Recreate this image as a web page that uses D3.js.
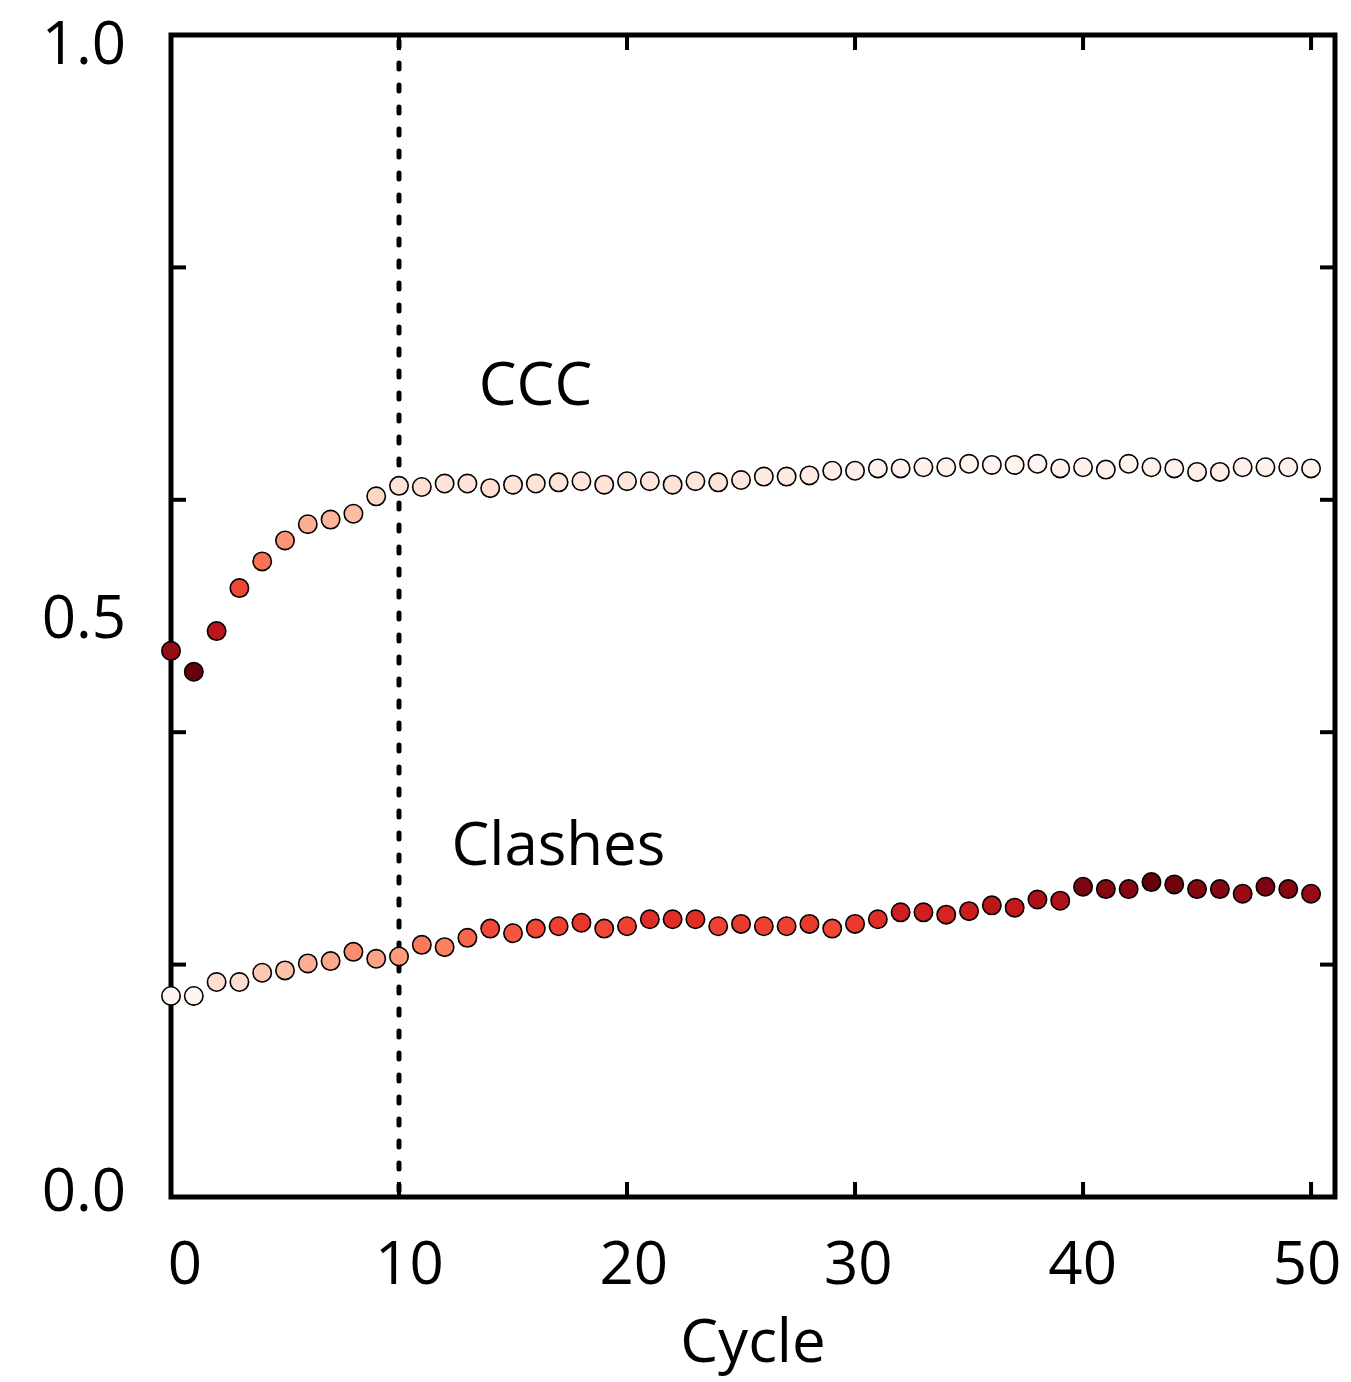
<!DOCTYPE html>
<html>
<head>
<meta charset="utf-8">
<script src="https://cdn.jsdelivr.net/npm/d3@7"></script>
<style>
  html, body { margin: 0; padding: 0; background: #fff; }
  svg { display: block; }
  text { font-family: "Open Sans", "Noto Sans", sans-serif; fill: #000; }
</style>
</head>
<body>
<svg id="chart" width="1351" height="1382"></svg>
<script>
// ---- data ----
const cycles = d3.range(0, 51);
const ccc = [
  0.470, 0.452, 0.487, 0.524, 0.547, 0.565, 0.579, 0.583, 0.588, 0.603,
  0.612, 0.611, 0.614, 0.614, 0.610, 0.613, 0.614, 0.615, 0.616, 0.613,
  0.616, 0.616, 0.613, 0.616, 0.615, 0.617, 0.620, 0.620, 0.621, 0.625,
  0.625, 0.627, 0.627, 0.628, 0.628, 0.631, 0.630, 0.630, 0.631, 0.627,
  0.628, 0.626, 0.631, 0.628, 0.627, 0.624, 0.624, 0.628, 0.628, 0.628,
  0.627
];
const clashes = [
  0.173, 0.173, 0.185, 0.185, 0.193, 0.195, 0.201, 0.203, 0.211, 0.205,
  0.207, 0.217, 0.215, 0.223, 0.231, 0.227, 0.231, 0.233, 0.236, 0.231,
  0.233, 0.239, 0.239, 0.239, 0.233, 0.235, 0.233, 0.233, 0.235, 0.231,
  0.235, 0.239, 0.245, 0.245, 0.243, 0.246, 0.251, 0.249, 0.256, 0.255,
  0.267, 0.265, 0.265, 0.271, 0.269, 0.265, 0.265, 0.261, 0.267, 0.265,
  0.261
];
const xTickValues = [0, 10, 20, 30, 40, 50];
const xTickLabels = ["0", "10", "20", "30", "40", "50"];
const yTickValues = [0, 0.2, 0.4, 0.6, 0.8, 1.0];
const yLabelValues = [0, 0.5, 1.0];
const yTickLabels = ["0.0", "0.5", "1.0"];
const markerCycle = 10;
const seriesLabels = [
  { name: "CCC", x: 13.5, y: 0.682 },
  { name: "Clashes", x: 12.3, y: 0.286 }
];
const xTitle = "Cycle";

// ---- layout ----
const svg = d3.select("#chart");
const L = 171, R = 1335, T = 35, B = 1197;
const x = d3.scaleLinear().domain([0, 51.05]).range([L, R]);
const y = d3.scaleLinear().domain([0, 1]).range([B, T]);
// tick labels sit on a slightly tighter spacing than the ticks
const xLab = d3.scaleLinear().domain([0, 50]).range([x(0) + 14, x(50) - 4]);
const yLab = d3.scaleLinear().domain([0, 1]).range([y(0) - 7, y(1) + 8]);

const fs = 60;

// dotted marker line
svg.append("line")
  .attr("x1", x(markerCycle)).attr("x2", x(markerCycle))
  .attr("y1", T + 6).attr("y2", B)
  .attr("stroke", "#000").attr("stroke-width", 5)
  .attr("stroke-linecap", "round")
  .attr("stroke-dasharray", "6,16");

// ticks (inward, all four sides)
const tk = svg.append("g").attr("stroke", "#000").attr("stroke-width", 4);
xTickValues.forEach(v => {
  if (v === 0) return;
  tk.append("line").attr("x1", x(v)).attr("x2", x(v)).attr("y1", B).attr("y2", B - 15);
  tk.append("line").attr("x1", x(v)).attr("x2", x(v)).attr("y1", T).attr("y2", T + 15);
});
yTickValues.forEach(v => {
  if (v === 0 || v === 1) return;
  tk.append("line").attr("x1", L).attr("x2", L + 15).attr("y1", y(v)).attr("y2", y(v));
  tk.append("line").attr("x1", R).attr("x2", R - 15).attr("y1", y(v)).attr("y2", y(v));
});

// frame
svg.append("rect")
  .attr("x", L).attr("y", T).attr("width", R - L).attr("height", B - T)
  .attr("fill", "none").attr("stroke", "#000").attr("stroke-width", 5);

// tick labels
svg.append("g").selectAll("text").data(xTickValues).join("text")
  .attr("x", d => xLab(d)).attr("y", 1284)
  .attr("text-anchor", "middle").attr("font-size", fs)
  .text((d, i) => xTickLabels[i]);

svg.append("g").selectAll("text").data(yLabelValues).join("text")
  .attr("x", 126).attr("y", d => yLab(d) + 21)
  .attr("text-anchor", "end").attr("font-size", fs)
  .text((d, i) => yTickLabels[i]);

// axis title
svg.append("text").attr("x", 753).attr("y", 1362)
  .attr("text-anchor", "middle").attr("font-size", fs).text(xTitle);

// series labels
svg.append("g").selectAll("text").data(seriesLabels).join("text")
  .attr("x", d => x(d.x)).attr("y", d => y(d.y))
  .attr("font-size", fs).text(d => d.name);

// colour scales
const cccColor = d3.scaleSequential(d3.interpolateReds).domain([d3.max(ccc), d3.min(ccc)]);
const clashColor = d3.scaleSequential(d3.interpolateReds).domain([d3.min(clashes), d3.max(clashes)]);

function drawSeries(vals, color) {
  svg.append("g").selectAll("circle").data(vals).join("circle")
    .attr("cx", (d, i) => x(cycles[i]))
    .attr("cy", d => y(d))
    .attr("r", 9.2)
    .attr("fill", d => color(d))
    .attr("stroke", "#000").attr("stroke-width", 1.6);
}
drawSeries(ccc, cccColor);
drawSeries(clashes, clashColor);
</script>
</body>
</html>
